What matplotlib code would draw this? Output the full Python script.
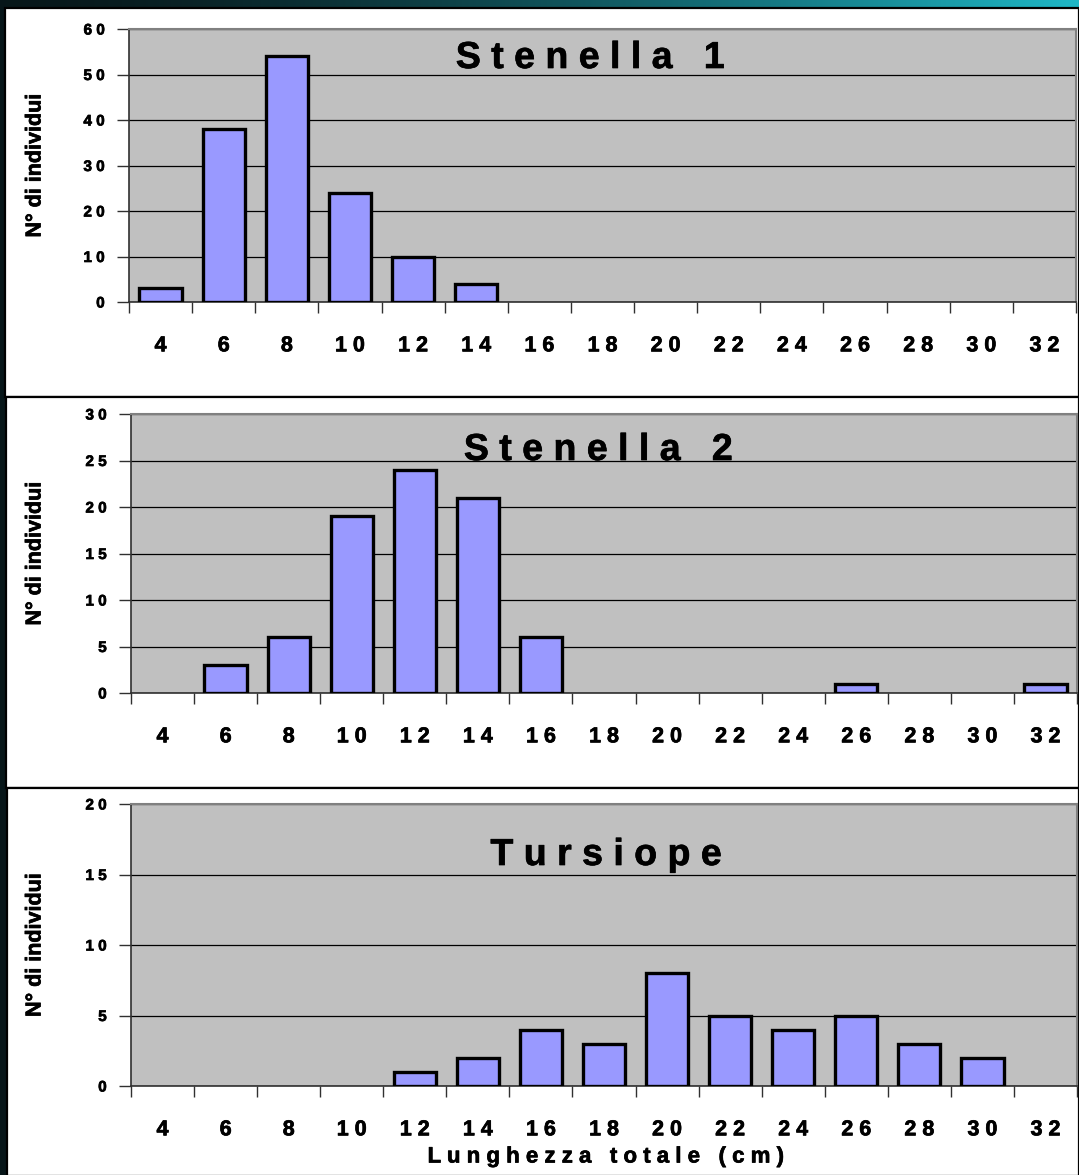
import numpy as np
import matplotlib
matplotlib.use("Agg")
import matplotlib.pyplot as plt
from matplotlib.patches import Rectangle
import matplotlib.patheffects as pe

# ---- data ----
lengths = [4, 6, 8, 10, 12, 14, 16, 18, 20, 22, 24, 26, 28, 30, 32]
stenella1 = [3, 38, 54, 24, 10, 4, 0, 0, 0, 0, 0, 0, 0, 0, 0]
stenella2 = [0, 3, 6, 19, 24, 21, 6, 0, 0, 0, 0, 1, 0, 0, 1]
tursiope = [0, 0, 0, 0, 1, 2, 4, 3, 8, 5, 4, 5, 3, 2, 0]
titles = ["Stenella 1", "Stenella 2", "Tursiope"]
ymaxes = [60, 30, 20]
ysteps = [10, 5, 5]
ylabel = "N° di individui"
xlabel = "Lunghezza totale (cm)"

W, H = 1079, 1175
plt.rcParams['font.family'] = ['Liberation Sans', 'DejaVu Sans']
plt.rcParams['font.weight'] = 'bold'

fig = plt.figure(figsize=(W / 100, H / 100), dpi=100)
heavy = [pe.withStroke(linewidth=0.5, foreground='black')]

def fx(px):
    return px / W

def fy(py):
    return 1 - py / H

def spaced(s):
    return " ".join(list(s))

# background gradient (teal texture substitute)
bg = fig.add_axes([0, 0, 1, 1], zorder=-10)
t = np.linspace(0, 1, 400)
c0 = np.array([0.03, 0.09, 0.10])
c1 = np.array([0.12, 0.72, 0.78])
grad = c0[None, :] + (c1 - c0)[None, :] * (t ** 1.5)[:, None]
bg.imshow(grad[None, :, :], aspect='auto', extent=[0, 1, 0, 1])
bg.set_axis_off()

# white panels
panels = [(5, 8, 397), (6, 397, 788), (7, 788, 1176)]
for (xl, yt, yb) in panels:
    fig.patches.append(Rectangle((fx(xl), fy(yb)), fx(W - xl), (yb - yt) / H,
                                 transform=fig.transFigure, facecolor='white',
                                 edgecolor='black', linewidth=1.6, zorder=-5))

axes_px = [(129, 1076, 29, 302), (131, 1077, 414, 693), (131, 1077, 804, 1086)]
series = [stenella1, stenella2, tursiope]
title_pos = [(590, 58), (598, 450), (606, 855)]

x = np.arange(len(lengths))
for i, (l, r, tp, bt) in enumerate(axes_px):
    ax = fig.add_axes([fx(l), fy(bt), (r - l) / W, (bt - tp) / H])
    ax.set_facecolor('#C0C0C0')
    vals = np.array(series[i])
    m = vals > 0
    ax.bar(x[m], vals[m], width=0.67, color='#9999FF', edgecolor='black',
           linewidth=2.4, zorder=3)
    ax.set_xlim(-0.5, len(lengths) - 0.5)
    ax.set_ylim(0, ymaxes[i])
    yt = np.arange(0, ymaxes[i] + 1, ysteps[i])
    ax.set_yticks(yt)
    ax.set_yticklabels([spaced(str(v)) for v in yt], fontsize=11, fontweight='bold')
    ax.yaxis.grid(True, color='black', linewidth=0.9, zorder=1)
    ax.set_axisbelow(True)
    ax.set_xticks(x)
    ax.set_xticklabels([spaced(str(v)) for v in lengths], fontsize=15.5, fontweight='bold')
    ax.set_xticks(np.arange(-0.5, len(lengths)), minor=True)
    ax.tick_params(axis='x', which='major', length=0, pad=24)
    ax.tick_params(axis='x', which='minor', length=8, width=1, color='#303030', direction='out')
    ax.tick_params(axis='y', which='major', length=8.5, width=1, color='#303030', pad=9)
    for lab in ax.get_xticklabels() + ax.get_yticklabels():
        lab.set_path_effects(heavy)
    for s in ['top', 'right']:
        ax.spines[s].set_color('#808080')
        ax.spines[s].set_linewidth(1.5)
    for s in ['left', 'bottom']:
        ax.spines[s].set_color('#303030')
        ax.spines[s].set_linewidth(1.2)
    fig.text(fx(35), fy((tp + bt) / 2), ylabel, rotation=90, ha='center', va='center',
             fontsize=15.5, fontweight='bold', path_effects=heavy)
    tx, ty = title_pos[i]
    fig.text(fx(tx), fy(ty), spaced(titles[i]), ha='center', va='center',
             fontsize=27, fontweight='bold', zorder=10, path_effects=heavy)

fig.text(fx(605), fy(1157), spaced(xlabel), ha='center', va='center',
         fontsize=16, fontweight='bold', path_effects=heavy)

fig.savefig("out.png", dpi=100)
